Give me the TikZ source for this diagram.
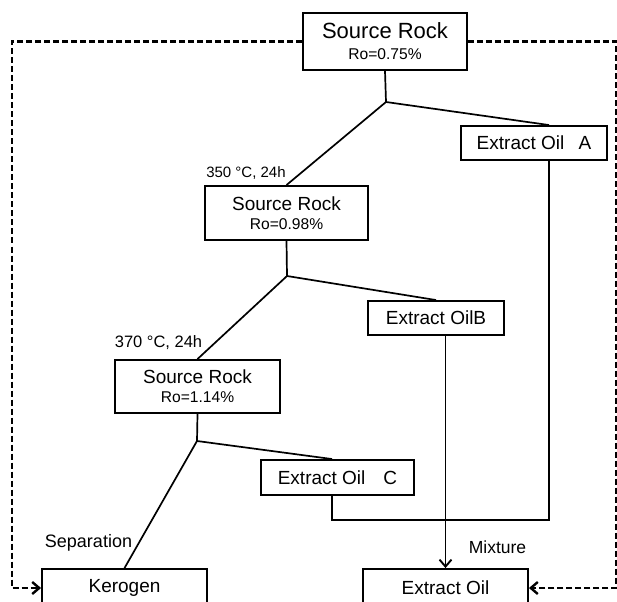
\documentclass[tikz,border=0pt]{standalone}
\usepackage{fontspec}
\setmainfont{Liberation Sans}
\usetikzlibrary{arrows.meta,positioning}

\newcommand{\roval}[1]{{\fontsize{15.6}{18}\selectfont Ro=#1\%}}

\begin{document}
\begin{tikzpicture}[x=1pt,y=-1pt,
	box/.style={draw,line width=1.9pt,inner sep=0pt,align=center,font=\fontsize{19}{19}\selectfont},
	link/.style={line width=1.7pt},
	flow/.style={line width=1.9pt,-{Straight Barb[length=7pt,width=12pt]}},
	feedback/.style={line width=2.4pt,dash pattern=on 6pt off 3pt,-{Straight Barb[length=7pt,width=12pt]}},
	lab/.style={inner sep=0pt}]
	\clip (0,0) rectangle (617,601);
	
	% Rocce madri
	\node[box,minimum width=164pt,minimum height=57pt,font=\fontsize{22}{21}\selectfont] (top) at (385,41.5) {Source Rock\\\roval{0.75}};
	\node[box,minimum width=163pt,minimum height=54pt] (sr2) at (286.5,213) {Source Rock\\\roval{0.98}};
	\node[box,minimum width=165pt,minimum height=53pt] (sr3) at (197.5,386.5) {Source Rock\\\roval{1.14}};
	
	% Estratti
	\node[box,minimum width=146pt,minimum height=34pt] (eA) at (534,143) {Extract Oil\hspace{0.75em}A};
	\node[box,minimum width=136pt,minimum height=34pt] (eB) at (436,318) {Extract OilB};
	\node[box,minimum width=153pt,minimum height=35pt] (eC) at (337.5,477.5) {Extract Oil\hspace{0.95em}C};
	
	% Prodotti finali
	\node[box,minimum width=165pt,minimum height=38pt] (ker) at (124.5,588) {Kerogen};
	\node[box,minimum width=165pt,minimum height=38pt] (eoil) at (445.5,588) {Extract Oil};
	
	% Punti di diramazione
	\coordinate (s1) at (386,102);
	\coordinate (s2) at (287,276);
	\coordinate (s3) at (197,441);
	\coordinate (mix) at (549,520);
	
	% Collegamenti
	\draw[link] (top.south) -- (s1) -- (sr2.north);
	\draw[link] (s1) -- ([xshift=15pt]eA.north);
	\draw[link] (sr2.south) -- (s2) -- (sr3.north);
	\draw[link] (s2) -- (eB.north);
	\draw[link] (sr3.south) -- (s3) -- (ker.north);
	\draw[link] (s3) -- ([xshift=-5.5pt]eC.north);
	\draw[link] ([xshift=-5.5pt]eC.south) |- (mix) -- ([xshift=15pt]eA.south);
	\draw[flow] (eB.south -| eoil.north) -- (eoil.north);
	
	% Ritorno tratteggiato
	\draw[feedback] (top.west) -| ([xshift=-29pt]ker.west) -- (ker.west);
	\draw[feedback] (top.east) -| ([xshift=87pt]eoil.east) -- (eoil.east);
	
	% Etichette
	\node[lab,font=\fontsize{15}{15}\selectfont] (t1) at (246,173) {350 °C, 24h};
	\node[lab,font=\fontsize{16.5}{16.5}\selectfont] (t2) at (158.5,343) {370 °C, 24h};
	\node[lab,font=\fontsize{18}{18}\selectfont] (sep) at (88.5,543) {Separation};
	\node[lab,font=\fontsize{17.5}{17.5}\selectfont] (mixl) at (497.5,547) {Mixture};
\end{tikzpicture}
\end{document}
